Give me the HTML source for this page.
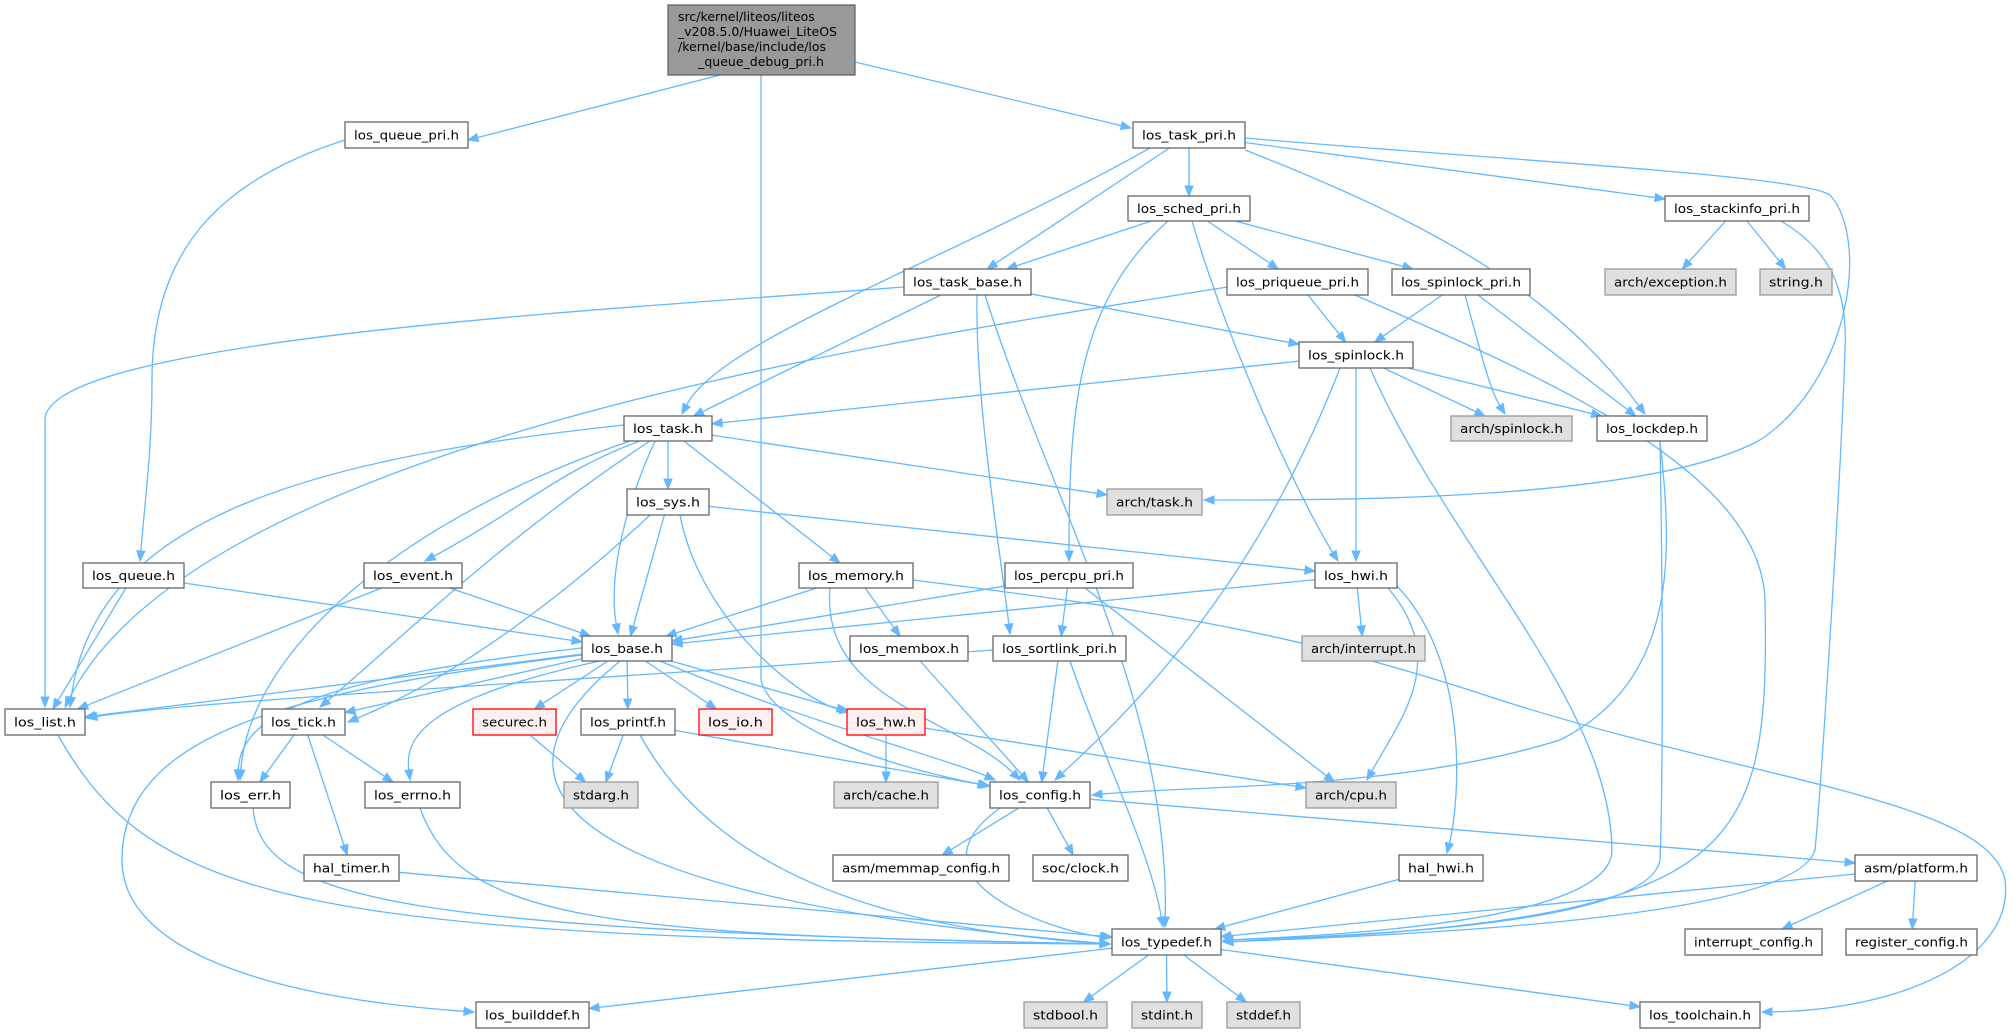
<!DOCTYPE html>
<html><head><meta charset="utf-8"><style>
html,body{margin:0;padding:0;background:#fff;}
svg{display:block;}
text{font-family:"DejaVu Sans","Liberation Sans",sans-serif;font-size:12.5px;fill:#000;}
</style></head><body>
<svg id="g" width="2014" height="1033" viewBox="0 0 2014 1033" xmlns="http://www.w3.org/2000/svg">
<g id="edges" fill="none" stroke="#63b8ff" stroke-width="1.3"></g>
<g id="heads" fill="#63b8ff" stroke="#63b8ff"></g>
<g id="nodes" stroke-width="1.3">
<rect x="668" y="5" width="187" height="70" fill="#999999" stroke="#666666"/>
<text x="678" y="21">src/kernel/liteos/liteos</text>
<text x="678" y="36">_v208.5.0/Huawei_LiteOS</text>
<text x="678" y="51">/kernel/base/include/los</text>
<text x="761" y="66" text-anchor="middle">_queue_debug_pri.h</text>
</g>
<g id="boxes"></g>
</svg>
<svg width="0" height="0" style="position:absolute">
<g id="labels">
<text>los_queue_pri.h</text><text>los_task_pri.h</text><text>los_sched_pri.h</text><text>los_task_base.h</text><text>los_priqueue_pri.h</text><text>los_spinlock_pri.h</text><text>los_stackinfo_pri.h</text><text>arch/exception.h</text><text>string.h</text><text>los_spinlock.h</text><text>arch/spinlock.h</text><text>los_lockdep.h</text><text>los_task.h</text><text>arch/task.h</text><text>los_sys.h</text><text>los_queue.h</text><text>los_event.h</text><text>los_memory.h</text><text>los_percpu_pri.h</text><text>los_hwi.h</text><text>los_base.h</text><text>los_membox.h</text><text>los_sortlink_pri.h</text><text>arch/interrupt.h</text><text>los_list.h</text><text>los_tick.h</text><text>securec.h</text><text>los_printf.h</text><text>los_io.h</text><text>los_hw.h</text><text>los_err.h</text><text>los_errno.h</text><text>stdarg.h</text><text>arch/cache.h</text><text>los_config.h</text><text>arch/cpu.h</text><text>hal_timer.h</text><text>asm/memmap_config.h</text><text>soc/clock.h</text><text>hal_hwi.h</text><text>asm/platform.h</text><text>los_typedef.h</text><text>interrupt_config.h</text><text>register_config.h</text><text>los_builddef.h</text><text>stdbool.h</text><text>stdint.h</text><text>stddef.h</text><text>los_toolchain.h</text>
</g></svg>
<script>
var N={
queue_pri:[345,122,468,148,'los_queue_pri.h'],
task_pri:[1133,122,1245,148,'los_task_pri.h'],
sched_pri:[1128,196,1250,221,'los_sched_pri.h'],
task_base:[904,269,1031,295,'los_task_base.h'],
priqueue:[1227,269,1368,295,'los_priqueue_pri.h'],
spinlock_pri:[1392,269,1530,295,'los_spinlock_pri.h'],
stackinfo:[1665,196,1809,221,'los_stackinfo_pri.h'],
exception:[1605,269,1736,295,'arch/exception.h','g'],
string:[1760,269,1832,295,'string.h','g'],
spinlock:[1299,342,1413,368,'los_spinlock.h'],
arch_spinlock:[1451,416,1572,441,'arch/spinlock.h','g'],
lockdep:[1597,416,1707,441,'los_lockdep.h'],
task:[624,416,712,441,'los_task.h'],
arch_task:[1107,489,1202,515,'arch/task.h','g'],
sys:[627,489,709,515,'los_sys.h'],
queue:[83,563,184,588,'los_queue.h'],
event:[364,563,462,588,'los_event.h'],
memory:[799,563,913,588,'los_memory.h'],
percpu:[1005,563,1133,588,'los_percpu_pri.h'],
hwi:[1315,563,1397,588,'los_hwi.h'],
base:[582,636,672,661,'los_base.h'],
membox:[850,636,968,661,'los_membox.h'],
sortlink:[993,636,1126,661,'los_sortlink_pri.h'],
interrupt:[1302,636,1425,661,'arch/interrupt.h','g'],
list:[5,709,85,735,'los_list.h'],
tick:[262,709,345,735,'los_tick.h'],
securec:[473,709,556,735,'securec.h','r'],
printf:[581,709,675,735,'los_printf.h'],
io:[699,709,772,735,'los_io.h','r'],
hw:[847,709,925,735,'los_hw.h','r'],
err:[211,782,290,808,'los_err.h'],
errno:[365,782,460,808,'los_errno.h'],
stdarg:[564,782,638,808,'stdarg.h','g'],
cache:[834,782,938,808,'arch/cache.h','g'],
config:[990,782,1090,808,'los_config.h'],
cpu:[1306,782,1396,808,'arch/cpu.h','g'],
hal_timer:[304,855,399,881,'hal_timer.h'],
memmap:[833,855,1009,881,'asm/memmap_config.h'],
clock:[1033,855,1128,881,'soc/clock.h'],
hal_hwi:[1399,855,1483,881,'hal_hwi.h'],
platform:[1855,855,1977,881,'asm/platform.h'],
typedef:[1112,929,1221,955,'los_typedef.h'],
int_cfg:[1685,929,1822,955,'interrupt_config.h'],
reg_cfg:[1846,929,1977,955,'register_config.h'],
builddef:[476,1002,589,1028,'los_builddef.h'],
stdbool:[1024,1002,1107,1028,'stdbool.h','g'],
stdint:[1132,1002,1202,1028,'stdint.h','g'],
stddef:[1227,1002,1300,1028,'stddef.h','g'],
toolchain:[1640,1002,1760,1028,'los_toolchain.h']
};
var E=[
['main','queue_pri',[[720,75],[468,140]]],
['main','task_pri',[[855,62],[1131,128]]],
['main','config',[[761,75],[761,500],[761,640],[761,680],[770,720],[860,760],[988,786]]],
['queue_pri','queue',[[345,140],[220,180],[152,250],[152,380],[152,450],[145,500],[140,561]]],
['task_pri','task',[[1150,148],[950,260],[720,340],[682,414]]],
['task_pri','task_base'],['task_pri','sched_pri'],['task_pri','lockdep',[[1245,150],[1450,230],[1560,300],[1645,414]]],['task_pri','stackinfo'],
['task_pri','arch_task',[[1245,138],[1500,160],[1800,175],[1830,195],[1870,240],[1850,380],[1760,440],[1650,500],[1350,500],[1204,500]]],
['sched_pri','task_base'],['sched_pri','priqueue'],['sched_pri','spinlock_pri'],['sched_pri','hwi',[[1192,221],[1230,350],[1300,500],[1338,561]]],
['sched_pri','percpu',[[1168,221],[1080,300],[1069,400],[1069,561]]],
['task_base','list',[[904,287],[600,310],[45,340],[45,420],[45,500],[45,600],[45,707]]],
['task_base','task'],['task_base','spinlock'],['task_base','sortlink',[[977,295],[975,400],[1000,550],[1010,634]]],
['task_base','typedef',[[985,295],[1050,500],[1170,700],[1165,927]]],
['priqueue','list',[[1227,287],[900,340],[200,440],[65,707]]],['priqueue','spinlock'],
['priqueue','typedef',[[1355,295],[1550,380],[1760,470],[1765,600],[1770,860],[1740,920],[1223,942]]],
['spinlock_pri','spinlock'],['spinlock_pri','arch_spinlock',[[1465,295],[1480,350],[1490,390],[1505,414]]],['spinlock_pri','lockdep'],
['stackinfo','exception'],['stackinfo','string'],
['stackinfo','typedef',[[1781,221],[1830,250],[1848,290],[1845,350],[1840,500],[1820,800],[1815,850],[1795,920],[1400,935],[1223,942]]],
['spinlock','task'],['spinlock','arch_spinlock'],['spinlock','lockdep'],['spinlock','hwi',[[1356,368],[1356,450],[1356,500],[1356,561]]],
['spinlock','config',[[1340,368],[1250,600],[1120,720],[1055,780]]],
['spinlock','typedef',[[1370,368],[1450,550],[1610,700],[1612,850],[1612,920],[1350,935],[1223,940]]],
['lockdep','config',[[1660,441],[1672,550],[1680,680],[1560,740],[1400,790],[1200,785],[1092,795]]],
['lockdep','typedef',[[1660,441],[1663,600],[1663,780],[1660,860],[1650,920],[1400,935],[1223,940]]],
['task','sys'],['task','arch_task'],['task','memory'],['task','event',[[640,441],[560,470],[520,510],[425,561]]],['task','base',[[655,441],[610,540],[612,600],[618,634]]],
['task','list',[[624,425],[300,460],[95,520],[70,707]]],['task','tick',[[650,441],[500,540],[400,640],[320,707]]],['task','err',[[630,441],[400,520],[250,650],[240,780]]],
['sys','hwi'],['sys','base'],['sys','tick',[[650,515],[560,600],[450,680],[348,722]]],['sys','hw',[[680,515],[700,620],[800,700],[850,712]]],
['queue','list'],['queue','base'],['event','list'],['event','base'],
['memory','base'],['memory','membox'],['memory','config',[[830,588],[820,700],[960,720],[1020,780]]],
['memory','toolchain',[[913,580],[1150,610],[1290,630],[1500,700],[1750,780],[1990,800],[2005,880],[2015,960],[1900,1010],[1762,1012]]],
['percpu','base'],['percpu','sortlink'],['percpu','cpu'],
['hwi','base'],['hwi','interrupt'],['hwi','cpu',[[1388,588],[1450,660],[1400,720],[1367,780]]],['hwi','hal_hwi',[[1395,584],[1470,660],[1460,800],[1447,853]]],
['base','list'],['base','tick'],['base','err',[[582,648],[300,680],[240,720],[238,780]]],['base','errno',[[600,661],[420,700],[405,740],[410,780]]],
['base','securec'],['base','printf'],['base','io'],['base','hw'],['base','config',[[660,661],[800,720],[950,760],[995,780]]],
['base','typedef',[[620,661],[450,800],[600,900],[1110,944]]],
['base','builddef',[[582,655],[300,690],[122,730],[122,860],[122,960],[300,1000],[474,1012]]],
['membox','config'],['sortlink','list',[[993,650],[600,680],[200,700],[87,718]]],['sortlink','config'],['sortlink','typedef',[[1070,661],[1100,750],[1150,850],[1163,927]]],
['list','typedef',[[58,735],[150,900],[300,940],[1110,944]]],
['tick','err'],['tick','errno'],['tick','hal_timer'],
['securec','stdarg'],['printf','stdarg'],['printf','config'],['printf','typedef',[[640,735],[720,880],[900,930],[1110,944]]],
['hw','cache'],['hw','cpu'],
['err','typedef',[[253,808],[260,900],[400,930],[1110,944]]],['errno','typedef',[[420,808],[460,920],[600,935],[1110,944]]],['hal_timer','typedef'],
['config','typedef',[[1000,808],[900,880],[1050,930],[1110,938]]],['config','memmap'],['config','clock'],['config','platform'],
['hal_hwi','typedef'],['platform','typedef'],['platform','int_cfg'],['platform','reg_cfg'],
['typedef','builddef'],['typedef','stdbool'],['typedef','stdint'],['typedef','stddef'],['typedef','toolchain']
];
N.main=[668,5,855,75,''];
function clip(b,tx,ty){var cx=(b[0]+b[2])/2,cy=(b[1]+b[3])/2,dx=tx-cx,dy=ty-cy,hw=(b[2]-b[0])/2,hh=(b[3]-b[1])/2;
 var s=Math.min(dx?hw/Math.abs(dx):1e9,dy?hh/Math.abs(dy):1e9);return [cx+dx*s,cy+dy*s];}
var ns='http://www.w3.org/2000/svg',eg=document.getElementById('edges'),hg=document.getElementById('heads'),bg=document.getElementById('boxes');
E.forEach(function(e){var s=N[e[0]],t=N[e[1]],p;
 if(e[2])p=e[2].map(function(q){return q.slice();});
 else{var a=clip(s,(t[0]+t[2])/2,(t[1]+t[3])/2),b=clip(t,(s[0]+s[2])/2,(s[1]+s[3])/2);p=[a,b];}
 var n=p.length,end=p[n-1],prev=p[n-2],dx=end[0]-prev[0],dy=end[1]-prev[1],L=Math.sqrt(dx*dx+dy*dy)||1,ux=dx/L,uy=dy/L;
 var base=[end[0]-ux*10,end[1]-uy*10];p[n-1]=base;
 var d='M'+p[0][0]+','+p[0][1];
 if(n==2)d+=' L'+base[0]+','+base[1];else for(var i=1;i+2<n;i+=3)d+=' C'+p[i]+' '+p[i+1]+' '+p[i+2];
 var pa=document.createElementNS(ns,'path');pa.setAttribute('d',d);eg.appendChild(pa);
 var tr=document.createElementNS(ns,'polygon');
 tr.setAttribute('points',end[0]+','+end[1]+' '+(base[0]-uy*4)+','+(base[1]+ux*4)+' '+(base[0]+uy*4)+','+(base[1]-ux*4));hg.appendChild(tr);
});
var lab=document.getElementById('labels');
for(var k in N){if(k=='main')continue;var b=N[k];
 var r=document.createElementNS(ns,'rect');r.setAttribute('x',b[0]);r.setAttribute('y',b[1]);r.setAttribute('width',b[2]-b[0]);r.setAttribute('height',b[3]-b[1]);
 r.setAttribute('fill',b[5]=='g'?'#e0e0e0':b[5]=='r'?'#fff0f0':'#ffffff');r.setAttribute('stroke',b[5]=='g'?'#999999':b[5]=='r'?'#ff0000':'#666666');r.setAttribute('stroke-width','1.3');bg.appendChild(r);
 var tx=null;for(var j=0;j<lab.childNodes.length;j++){var c=lab.childNodes[j];if(c.textContent===b[4]){tx=c;break;}}
 if(!tx){tx=document.createElementNS(ns,'text');tx.textContent=b[4];}
 tx.setAttribute('x',(b[0]+b[2])/2);tx.setAttribute('y',(b[1]+b[3])/2+4.5);tx.setAttribute('text-anchor','middle');
 var w=b[2]-b[0]-18;tx.setAttribute('textLength',w);tx.setAttribute('lengthAdjust','spacingAndGlyphs');bg.appendChild(tx);}
</script>
</body></html>
